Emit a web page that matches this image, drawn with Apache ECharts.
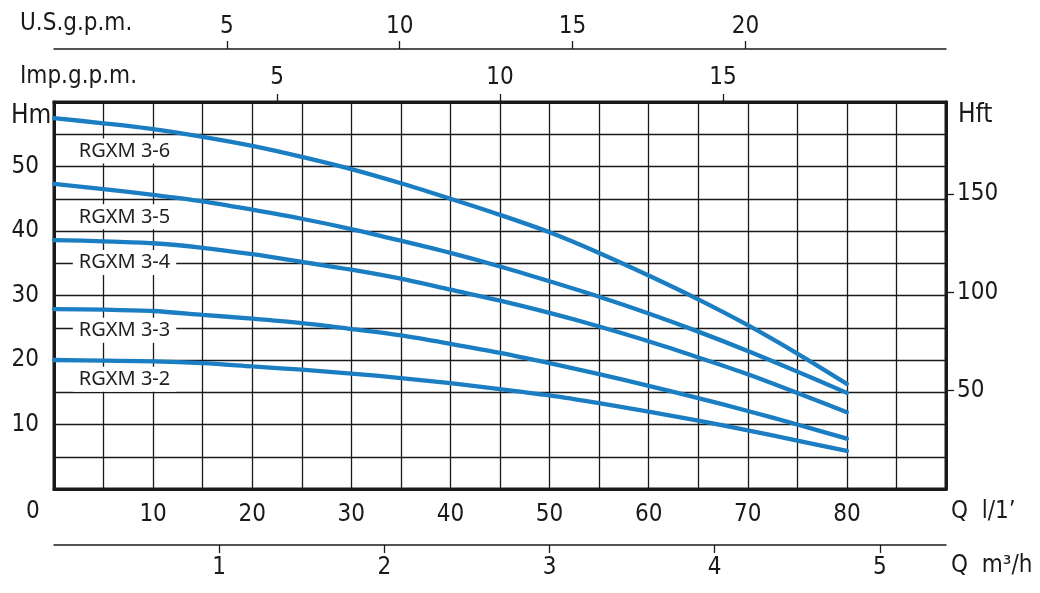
<!DOCTYPE html>
<html><head><meta charset="utf-8">
<script src="https://cdn.jsdelivr.net/npm/echarts@6/dist/echarts.min.js"></script>
<style>html,body{margin:0;padding:0;background:#fff}#c{width:1040px;height:593px}</style>
</head><body><div id="c"></div>
<script>
// Flow Q in l/min
const flow = [0, 5, 10, 15, 20, 25, 30, 35, 40, 45, 50, 55, 60, 65, 70, 75, 80];
// Head H in m
const rgxm36 = [57.5, 56.7, 55.8, 54.6, 53.2, 51.5, 49.6, 47.4, 45.0, 42.5, 39.8, 36.6, 33.1, 29.4, 25.4, 21.0, 16.3];
const rgxm35 = [47.3, 46.5, 45.6, 44.6, 43.3, 41.9, 40.3, 38.5, 36.6, 34.5, 32.2, 29.8, 27.2, 24.4, 21.4, 18.2, 14.9];
const rgxm34 = [38.6, 38.4, 38.1, 37.4, 36.4, 35.2, 34.0, 32.6, 30.9, 29.2, 27.3, 25.2, 22.9, 20.4, 17.8, 14.9, 11.9];
const rgxm33 = [27.9, 27.8, 27.6, 27.0, 26.4, 25.7, 24.8, 23.8, 22.5, 21.1, 19.5, 17.8, 16.0, 14.1, 12.1, 10.0, 7.8];
const rgxm32 = [20.0, 19.9, 19.8, 19.5, 19.0, 18.5, 17.9, 17.2, 16.4, 15.5, 14.5, 13.3, 12.0, 10.6, 9.1, 7.5, 5.9];
const seriesNames = ['RGXM 3-6', 'RGXM 3-5', 'RGXM 3-4', 'RGXM 3-3', 'RGXM 3-2'];
const seriesValues = [rgxm36, rgxm35, rgxm34, rgxm33, rgxm32];
// label anchor positions [Q, H]
const labelPos = [[1.9, 52.4], [1.9, 42.2], [1.9, 35.1], [1.9, 24.6], [1.9, 17.0]];
// tick labels
const qTicks = [10, 20, 30, 40, 50, 60, 70, 80];
const hmTicks = [10, 20, 30, 40, 50];
const hftTicks = [50, 100, 150];
const impTicks = [5, 10, 15];
const usTicks = [5, 10, 15, 20];
const m3hTicks = [1, 2, 3, 4, 5];

const font = '"Liberation Sans Narrow", "DejaVu Sans Condensed", sans-serif';
const lblFont = '"Noto Sans", "Open Sans", sans-serif';
const txt = {color: '#1a1a1a', fontFamily: font, fontSize: 24};

const chart = echarts.init(document.getElementById('c'), null, {renderer: 'canvas'});
const lineColor = '#1b7ec2';

const series = seriesNames.map((n, i) => ({
  name: n, type: 'line', smooth: 0.3, symbol: 'none',
  xAxisIndex: 0, yAxisIndex: 0,
  lineStyle: {color: lineColor, width: 4.3, cap: 'round'},
  data: flow.map((q, k) => [q, seriesValues[i][k]]),
  z: 5,
  markPoint: {
    symbol: 'rect', symbolSize: 0, silent: true,
    data: [{coord: labelPos[i], value: n}],
    label: {
      show: true, position: 'inside', align: 'left', verticalAlign: 'middle',
      formatter: n, color: '#231f20', fontFamily: lblFont, fontSize: 20,
      backgroundColor: '#fff', padding: [3, 6, 2, 6]
    }
  }
}));

chart.setOption({
  animation: false,
  grid: {left: 54, right: 94, top: 102, bottom: 104, show: true, borderColor: '#1a1a1a', borderWidth: 3, backgroundColor: 'transparent'},
  xAxis: [
    {type: 'value', min: 0, max: 90, interval: 5, position: 'bottom',
      axisLine: {show: true, onZero: false, lineStyle: {color: '#1a1a1a', width: 3}},
      axisTick: {show: false},
      splitLine: {show: true, lineStyle: {color: '#1a1a1a', width: 1.3}},
      axisLabel: Object.assign({margin: 14, customValues: qTicks}, txt)},
    {type: 'value', min: 0, max: 20, position: 'top',
      axisLine: {show: true, onZero: false, lineStyle: {color: '#1a1a1a', width: 3}},
      axisTick: {show: true, length: 8, customValues: impTicks, lineStyle: {color: '#1a1a1a', width: 1.3}},
      splitLine: {show: false},
      axisLabel: Object.assign({margin: 12, customValues: impTicks}, txt)},
    {type: 'value', min: 0, max: 25.8, position: 'top', offset: 53,
      axisLine: {show: true, onZero: false, lineStyle: {color: '#1a1a1a', width: 1.5}},
      axisTick: {show: true, length: 8, customValues: usTicks, lineStyle: {color: '#1a1a1a', width: 1.3}},
      splitLine: {show: false},
      axisLabel: Object.assign({margin: 10, customValues: usTicks}, txt)},
    {type: 'value', min: 0, max: 5.4, position: 'bottom', offset: 56,
      axisLine: {show: true, onZero: false, lineStyle: {color: '#1a1a1a', width: 1.5}},
      axisTick: {show: true, length: 8, customValues: m3hTicks, lineStyle: {color: '#1a1a1a', width: 1.3}},
      splitLine: {show: false},
      axisLabel: Object.assign({margin: 11, customValues: m3hTicks}, txt)}
  ],
  yAxis: [
    {type: 'value', min: 0, max: 60, interval: 5, position: 'left',
      axisLine: {show: true, onZero: false, lineStyle: {color: '#1a1a1a', width: 3}},
      axisTick: {show: false},
      splitLine: {show: true, lineStyle: {color: '#1a1a1a', width: 1.3}},
      axisLabel: Object.assign({margin: 15, customValues: hmTicks}, txt)},
    {type: 'value', min: 0, max: 60 * 3.28084, position: 'right',
      axisLine: {show: true, onZero: false, lineStyle: {color: '#1a1a1a', width: 3}},
      axisTick: {show: true, length: 8, customValues: hftTicks, lineStyle: {color: '#1a1a1a', width: 1.3}},
      splitLine: {show: false},
      axisLabel: Object.assign({margin: 11, customValues: hftTicks}, txt)}
  ],
  series: series,
  graphic: [
    {type: 'text', left: 20, top: 12, style: {text: 'U.S.g.p.m.', fill: '#1a1a1a', font: '24px ' + font}},
    {type: 'text', left: 20, top: 65, style: {text: 'Imp.g.p.m.', fill: '#1a1a1a', font: '24px ' + font}},
    {type: 'text', left: 11, top: 103, style: {text: 'Hm', fill: '#1a1a1a', font: '26px ' + font}},
    {type: 'text', left: 958, top: 102, style: {text: 'Hft', fill: '#1a1a1a', font: '26px ' + font}},
    {type: 'text', left: 26, top: 500, style: {text: '0', fill: '#1a1a1a', font: '24px ' + font}},
    {type: 'text', left: 951, top: 500, style: {text: "Q  l/1\u2019", fill: '#1a1a1a', font: '24px ' + font}},
    {type: 'text', left: 951, top: 554, style: {text: 'Q  m\u00b3/h', fill: '#1a1a1a', font: '24px ' + font}}
  ]
});
</script></body></html>
